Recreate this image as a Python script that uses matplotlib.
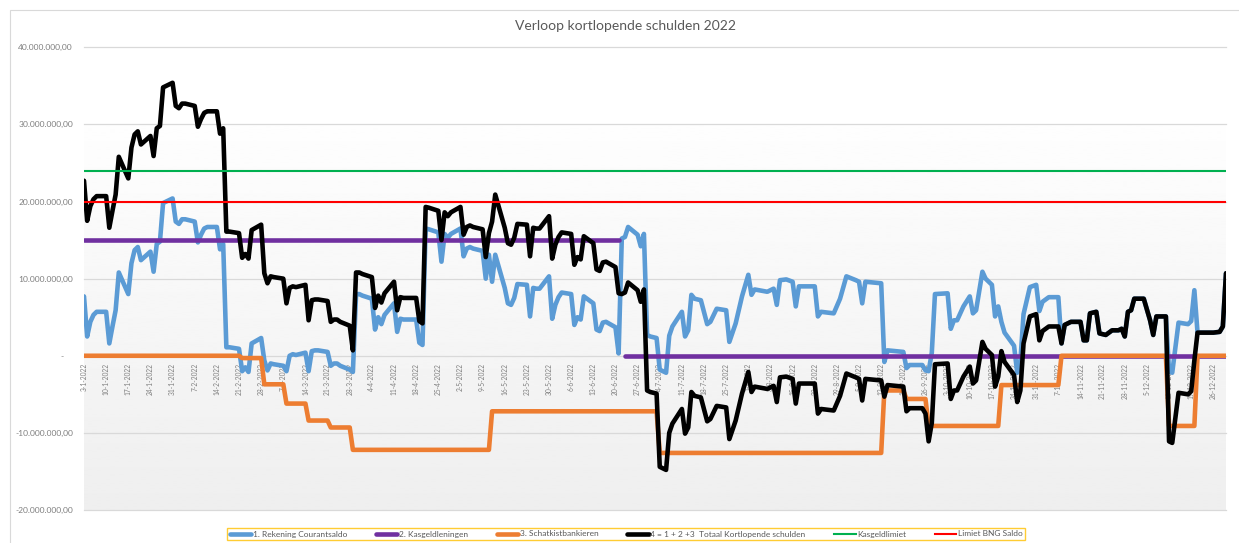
import numpy as np
import pandas as pd
import matplotlib
matplotlib.use("Agg")
import matplotlib.pyplot as plt
from matplotlib.patches import Rectangle

plt.rcParams['font.family'] = ['Lato', 'DejaVu Sans']

# 1. Rekening courantsaldo (mln euro), per boekdatum 2022
rc_dates = [
    "01-03", "01-04", "01-05", "01-06", "01-07", "01-10", "01-11", "01-12", "01-13", "01-14",
    "01-17", "01-18", "01-19", "01-20", "01-21", "01-24", "01-25", "01-26", "01-27", "01-28",
    "01-31", "02-01", "02-02", "02-03", "02-04", "02-07", "02-08", "02-09", "02-10", "02-11",
    "02-14", "02-15", "02-16", "02-17", "02-18", "02-21", "02-22", "02-23", "02-24", "02-25",
    "02-28", "03-01", "03-02", "03-03", "03-04", "03-07", "03-08", "03-09", "03-10", "03-11",
    "03-14", "03-15", "03-16", "03-17", "03-18", "03-21", "03-22", "03-23", "03-24", "03-25",
    "03-28", "03-29", "03-30", "03-31", "04-01", "04-04", "04-05", "04-06", "04-07", "04-08",
    "04-11", "04-12", "04-13", "04-14", "04-15", "04-18", "04-19", "04-20", "04-21", "04-22",
    "04-25", "04-26", "04-27", "04-28", "04-29", "05-02", "05-03", "05-04", "05-05", "05-06",
    "05-09", "05-10", "05-11", "05-12", "05-13", "05-16", "05-17", "05-18", "05-19", "05-20",
    "05-23", "05-24", "05-25", "05-26", "05-27", "05-30", "05-31", "06-01", "06-02", "06-03",
    "06-06", "06-07", "06-08", "06-09", "06-10", "06-13", "06-14", "06-15", "06-16", "06-17",
    "06-20", "06-21", "06-22", "06-23", "06-24", "06-27", "06-28", "06-29", "06-30", "07-01",
    "07-03", "07-04", "07-05", "07-06", "07-07", "07-08", "07-11", "07-12", "07-13", "07-14",
    "07-15", "07-17", "07-19", "07-20", "07-22", "07-25", "07-26", "07-28", "07-30",
    "08-01", "08-02", "08-03", "08-07", "08-09", "08-10", "08-11", "08-13", "08-15", "08-16",
    "08-17", "08-22", "08-23", "08-24", "08-28", "08-30",
    "09-01", "09-04", "09-05", "09-06", "09-07", "09-12", "09-13", "09-14", "09-19", "09-20",
    "09-21", "09-25", "09-26", "09-27", "09-28", "09-29",
    "10-03", "10-04", "10-05", "10-06", "10-08", "10-10", "10-11", "10-12", "10-14", "10-15",
    "10-17", "10-18", "10-19", "10-20", "10-21", "10-24", "10-25", "10-26", "10-27", "10-29",
    "10-31", "11-01", "11-02", "11-04", "11-07", "11-08", "11-09", "11-11", "11-14", "11-15",
    "11-16", "11-17", "11-19", "11-20", "11-22", "11-24", "11-26", "11-27", "11-28", "11-29",
    "11-30", "12-01", "12-04", "12-06", "12-07", "12-08", "12-11", "12-12", "12-13", "12-15",
    "12-18", "12-19", "12-20", "12-21", "12-26", "12-28", "12-29", "12-30",
]
rc_saldo = [
    7.7, 2.5, 4.4, 5.3, 5.7, 5.7, 1.6, 3.8, 5.9, 10.8,
    8.0, 12.0, 13.7, 14.1, 12.4, 13.5, 10.9, 14.5, 14.8, 19.8,
    20.4, 17.4, 17.1, 17.7, 17.7, 17.4, 14.7, 15.7, 16.5, 16.7,
    16.7, 13.8, 14.5, 1.1, 1.1, 0.9, -2.0, -1.5, -2.1, 1.6,
    2.3, -0.6, -1.9, -1.0, -1.1, -1.3, -2.0, 0.0, 0.2, 0.1,
    0.4, -2.0, 0.6, 0.7, 0.7, 0.5, -1.3, -1.0, -1.0, -1.3,
    -1.8, -2.1, 8.0, 8.0, 7.8, 7.4, 3.4, 5.0, 4.1, 5.3,
    6.8, 3.1, 4.8, 4.7, 4.7, 4.7, 1.7, 1.4, 16.5, 16.4,
    16.0, 12.2, 15.8, 15.3, 15.8, 16.5, 12.9, 13.9, 14.1, 13.9,
    13.6, 10.0, 13.1, 9.6, 13.1, 8.8, 6.8, 6.6, 7.5, 9.3,
    9.2, 5.1, 8.8, 8.7, 8.7, 10.3, 4.8, 6.6, 7.6, 8.2,
    8.0, 4.0, 5.0, 4.7, 7.7, 6.8, 3.4, 3.2, 4.3, 4.4,
    3.7, 0.3, 15.2, 15.4, 16.7, 15.7, 14.2, 15.8, 2.7, 2.5,
    2.3, -1.8, -2.0, -2.2, 2.6, 3.8, 5.7, 2.5, 3.3, 7.9,
    7.4, 7.2, 4.1, 4.4, 6.1, 5.9, 1.8, 4.2, 7.7,
    10.5, 7.9, 8.6, 8.3, 8.7, 6.6, 9.8, 9.9, 9.6, 6.4,
    9.0, 9.0, 5.1, 5.7, 5.5, 7.4,
    10.3, 9.8, 9.6, 6.8, 9.6, 9.4, -0.8, 0.7, 0.5, -1.6,
    -1.2, -1.2, -1.9, -2.0, 0.4, 8.0,
    8.1, 3.5, 4.6, 4.6, 6.4, 7.7, 5.5, 5.9, 10.9, 10.0,
    9.2, 5.1, 6.4, 4.4, 3.0, 1.3, -2.2, -0.7, 5.4, 8.9,
    9.2, 5.8, 7.0, 7.6, 7.6, 1.6, 4.0, 4.4, 4.4, 2.0,
    2.0, 5.5, 5.7, 2.9, 2.7, 3.3, 3.3, 3.5, 2.5, 5.7,
    5.9, 7.4, 7.4, 4.6, 2.7, 5.1, 5.1, -2.0, -2.2, 4.3,
    4.1, 4.5, 8.5, 3.0, 3.0, 3.1, 3.8, 10.7,
]

# 3. Schatkistbankieren: datum vanaf wanneer elk niveau geldt (mln euro)
sb_dates = ["01-03", "02-22", "03-01", "03-08", "03-15", "03-22", "03-29", "05-12",
            "07-04", "09-13", "09-20", "09-27", "10-20", "11-08", "12-12", "12-21"]
sb_levels = [0.0, -0.3, -3.7, -6.2, -8.4, -9.3, -12.2, -7.2,
             -12.6, -4.5, -5.6, -9.1, -3.8, 0.0, -9.1, 0.0]

# 2. Kasgeldleningen: 15 mln t/m 21-6, daarna afgelost
kg_amount = 15.0
kg_last = "06-21"
kg_zero_from = "06-23"

kasgeldlimiet = 24.0
limiet_bng = 20.0

MLN = 1e6


def d(s):
    return pd.Timestamp("2022-" + s)


dates = pd.DatetimeIndex([d(s) for s in rc_dates])
rc = np.array(rc_saldo) * MLN
sb = pd.Series(sb_levels, index=[d(s) for s in sb_dates]).reindex(dates, method="ffill").to_numpy() * MLN
kg = np.where(dates <= d(kg_last), kg_amount, np.where(dates >= d(kg_zero_from), 0.0, np.nan)) * MLN
total = rc + np.nan_to_num(kg) + sb

fig = plt.figure(figsize=(12.39, 5.43), dpi=100)
W, H = 1239, 543
ax = fig.add_axes([84 / W, (H - 510) / H, 1142 / W, (510 - 47.3) / H])

x0, x1 = dates[0], dates[-1]
ax.set_xlim(x0, x1)
ax.set_ylim(-20 * MLN, 40 * MLN)

# light grey gradient in the plot area
grad = np.linspace(0.995, 0.935, 256).reshape(-1, 1)
ax.imshow(grad, extent=[matplotlib.dates.date2num(x0), matplotlib.dates.date2num(x1), -20 * MLN, 30 * MLN],
          aspect="auto", cmap="gray", vmin=0, vmax=1, zorder=0, interpolation="bilinear")

for v in range(-20, 41, 10):
    ax.axhline(v * MLN, color="#d9d9d9", lw=0.9, zorder=1, clip_on=False)

lw = 3.3
kw = dict(solid_joinstyle="round", solid_capstyle="round")
l1, = ax.plot(dates, rc, color="#5B9BD5", lw=lw, zorder=3, **kw)
l2, = ax.plot(dates, kg, color="#7030A0", lw=lw, zorder=3, **kw)
l3, = ax.plot(dates, sb, color="#ED7D31", lw=lw, zorder=3, **kw)
l4, = ax.plot(dates, total, color="black", lw=lw, zorder=3, **kw)
l5, = ax.plot([x0, x1], [kasgeldlimiet * MLN] * 2, color="#00B050", lw=1.5, zorder=3)
l6, = ax.plot([x0, x1], [limiet_bng * MLN] * 2, color="#FF0000", lw=1.5, zorder=3)

for s in ax.spines.values():
    s.set_visible(False)
ax.spines["bottom"].set_position(("data", 0))

ticks = pd.date_range("2022-01-03", "2022-12-26", freq="7D")
ax.set_xticks(ticks)
ax.set_xticklabels([f"{t.day}-{t.month}-{t.year}" for t in ticks], rotation=90,
                   fontsize=4.8, color="#7f7f7f", va="top", ha="center")
ax.tick_params(axis="x", length=0, pad=5)


def nl(v):
    if v == 0:
        return "-    "
    s = f"{v:,.2f}"
    return s.replace(",", "X").replace(".", ",").replace("X", ".")


yt = np.arange(-20, 41, 10) * MLN
ax.set_yticks(yt)
ax.set_yticklabels([nl(v) for v in yt], fontsize=6.1, color="#7f7f7f")
ax.tick_params(axis="y", length=0, pad=8)

fig.text(625 / W, 1 - 26 / H, "Verloop kortlopende schulden 2022", ha="center", va="center",
         fontsize=10, color="#595959")

leg = fig.legend([l1, l2, l3, l4, l5, l6],
                 ["1. Rekening Courantsaldo", "2. Kasgeldleningen", "3. Schatkistbankieren",
                  "4 = 1 + 2 +3  Totaal Kortlopende schulden", "Kasgeldlimiet", "Limiet BNG Saldo"],
                 loc="center", bbox_to_anchor=(626 / W, 9 / H), ncol=6, fontsize=6,
                 frameon=True, fancybox=False, edgecolor="#FFC000", handlelength=2.6,
                 handletextpad=0.15, columnspacing=3.45, borderpad=0.35)
leg.get_frame().set_linewidth(1.0)
for t in leg.get_texts():
    t.set_color("#595959")

# chart border
fig.add_artist(Rectangle((10 / W, -0.05), 1.1, (H - 10) / H + 0.05, transform=fig.transFigure,
                         fill=False, edgecolor="#d9d9d9", lw=0.8))

fig.savefig("out.png", dpi=100)
